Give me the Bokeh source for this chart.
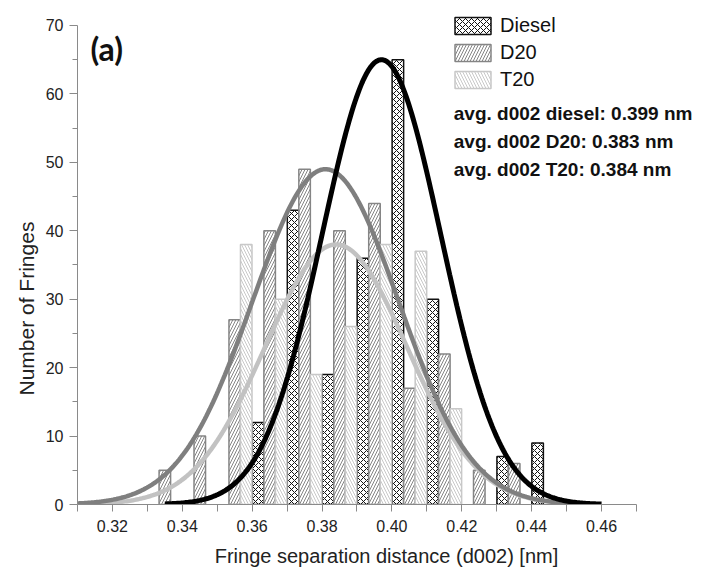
import numpy as np
from bokeh.plotting import figure
from bokeh.models import (Range1d, FixedTicker, Label, Legend, LegendItem,
                          ColumnDataSource, Title)
from bokeh.embed import file_html
from bokeh.resources import INLINE

# ---- data ----
bin_centers = [0.335, 0.345, 0.355, 0.365, 0.375, 0.385, 0.395, 0.405, 0.415, 0.425, 0.435, 0.445]
diesel_counts = [0, 0, 0, 12, 43, 19, 36, 65, 30, 0, 7, 9]
d20_counts = [5, 10, 27, 40, 49, 40, 44, 17, 22, 5, 6, 0]
t20_counts = [0, 0, 38, 30, 19, 26, 38, 37, 14, 0, 0, 0]
series_names = ["Diesel", "D20", "T20"]

# Gaussian fit parameters: peak height, centre, width, drawn x-span
fit_peak = [65, 49, 38]
fit_center = [0.397, 0.381, 0.384]
fit_sigma = [0.0170, 0.0209, 0.0203]
fit_start = [0.335, 0.310, 0.315]
fit_end = [0.460, 0.455, 0.451]

avg_texts = ["avg. d002 diesel: 0.399 nm", "avg. d002 D20: 0.383 nm", "avg. d002 T20: 0.384 nm"]
x_bounds = (0.31, 0.47)
y_bounds = (0, 70)
x_major = [0.32, 0.34, 0.36, 0.38, 0.40, 0.42, 0.44, 0.46]
x_minor = [0.31, 0.33, 0.35, 0.37, 0.39, 0.41, 0.43, 0.45, 0.47]
y_major = [0, 10, 20, 30, 40, 50, 60, 70]
y_minor = [5, 15, 25, 35, 45, 55, 65]

# ---- styles / layout ----
bar_w = 0.0033
offsets = [-bar_w, 0.0, bar_w]
outline_cols = ["#111111", "#858585", "#c8c8c8"]
hatch_pats = ["x", "/", "\\"]
curve_cols = ["#000000", "#7f7f7f", "#c2c2c2"]
curve_w = [5, 4.5, 4.5]
FONT = "Liberation Sans"

# frame extends to the top and right canvas edges so that texts there are not clipped
p = figure(width=695, height=571, output_backend="svg", toolbar_location=None,
           x_range=Range1d(0.31, 0.48689), y_range=Range1d(0, 73.65),
           min_border_left=77, min_border_right=0, min_border_top=0, min_border_bottom=67)
p.outline_line_color = None
p.xgrid.visible = False
p.ygrid.visible = False
p.background_fill_color = "white"
p.border_fill_color = "white"

renderers = []
for i, counts in enumerate([diesel_counts, d20_counts, t20_counts]):
    xs = [c + offsets[i] for c, v in zip(bin_centers, counts) if v > 0]
    ys = [v for v in counts if v > 0]
    src = ColumnDataSource(dict(x=xs, top=ys))
    r = p.vbar(x="x", top="top", width=bar_w, bottom=0, source=src,
               fill_color="white", line_color=outline_cols[i], line_width=1.5,
               hatch_pattern=hatch_pats[i], hatch_color=outline_cols[i],
               hatch_scale=6, hatch_weight=1.0)
    renderers.append(r)

for i in [2, 1, 0]:
    xx = np.linspace(fit_start[i], fit_end[i], 300)
    yy = fit_peak[i] * np.exp(-(xx - fit_center[i]) ** 2 / (2 * fit_sigma[i] ** 2))
    p.line(xx, yy, line_color=curve_cols[i], line_width=curve_w[i])

# axes
for ax in (p.xaxis[0], p.yaxis[0]):
    ax.axis_line_color = "#8a8a8a"
    ax.major_tick_line_color = "#8a8a8a"
    ax.minor_tick_line_color = "#8a8a8a"
    ax.major_label_text_font = FONT
    ax.major_label_text_font_size = "16px"
    ax.major_label_text_color = "#222222"
    ax.major_tick_in = 0
    ax.minor_tick_in = 0

p.xaxis.bounds = x_bounds
p.xaxis.ticker = FixedTicker(ticks=x_major, minor_ticks=x_minor)
p.xaxis.major_label_overrides = {v: f"{v:.2f}" for v in x_major}
p.xaxis.major_tick_out = 7
p.xaxis.minor_tick_out = 7
p.xaxis.major_label_standoff = 8
p.xaxis.axis_label = "Fringe separation distance (d002) [nm]"
p.xaxis.axis_label_text_font = FONT
p.xaxis.axis_label_text_font_size = "20px"
p.xaxis.axis_label_text_font_style = "normal"
p.xaxis.axis_label_text_color = "#222222"
p.xaxis.axis_label_standoff = 10

p.yaxis.bounds = y_bounds
p.yaxis.ticker = FixedTicker(ticks=y_major, minor_ticks=y_minor)
p.yaxis.major_tick_out = 8
p.yaxis.minor_tick_out = 5
p.yaxis.major_label_standoff = 6

p.add_layout(Title(text="Number of Fringes", align="left", offset=109,
                   text_font=FONT, text_font_size="21px", text_font_style="normal",
                   text_color="#222222"), "left")

p.add_layout(Label(x=0.3137, y=66.6, text="(a)", text_font="Lato",
                   text_font_style="bold", text_font_size="32px", text_color="#111111",
                   text_align="left", text_baseline="middle"))

legend = Legend(items=[LegendItem(label=series_names[i], renderers=[renderers[i]]) for i in range(3)],
                location=(373, 413), orientation="vertical",
                glyph_width=45, glyph_height=21, label_height=21,
                spacing=4, padding=0, margin=0, label_standoff=5,
                label_text_font=FONT, label_text_font_size="20px", label_text_color="#111111",
                border_line_alpha=0, background_fill_alpha=0)
p.add_layout(legend)

for j, t in enumerate(avg_texts):
    p.add_layout(Label(x=0.4177, y=[57.2, 53.1, 49.0][j], text=t, text_font=FONT,
                       text_font_style="bold", text_font_size="19px", text_color="#111111",
                       text_align="left", text_baseline="middle"))

open("out.html", "w").write(file_html(p, INLINE))
